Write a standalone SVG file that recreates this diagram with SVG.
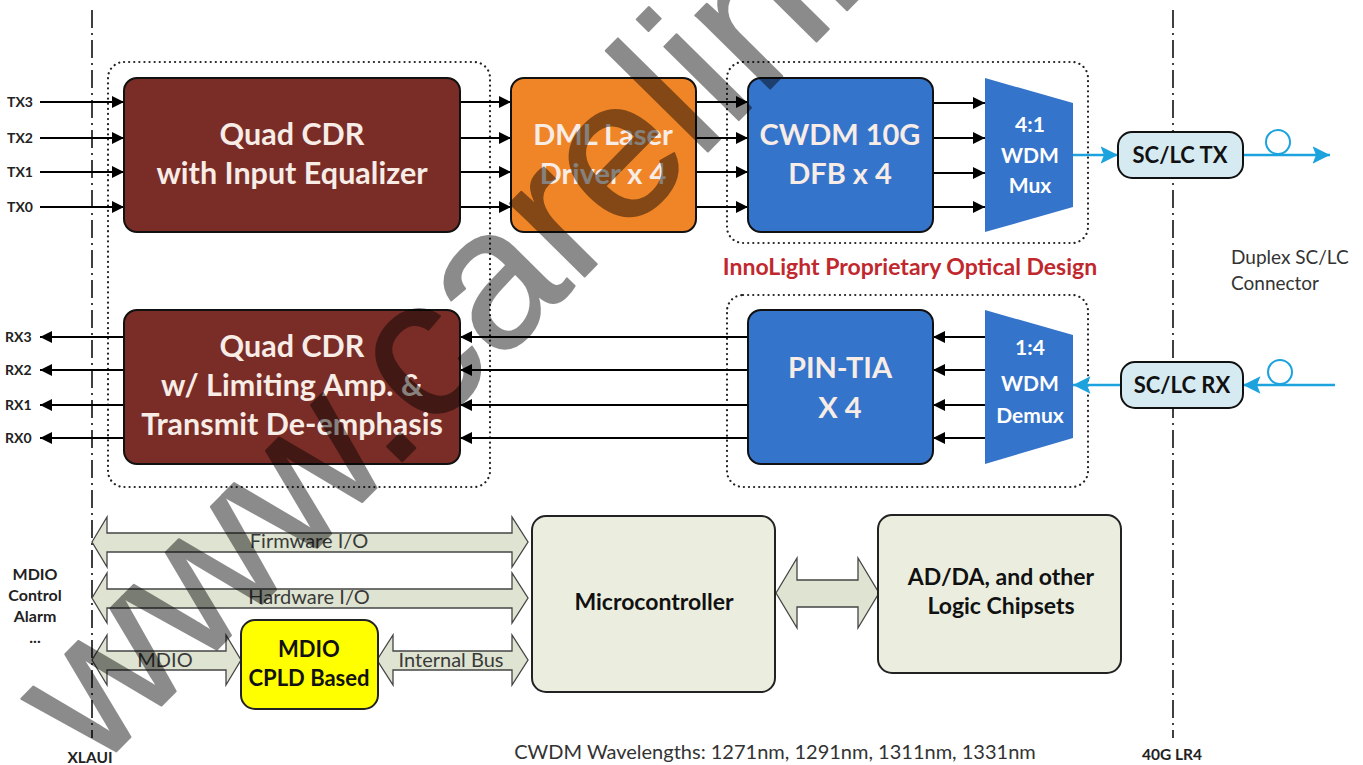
<svg xmlns="http://www.w3.org/2000/svg" width="1363" height="765" viewBox="0 0 1363 765">
<defs>
<style>
.t{font-family:Lato,"Liberation Sans",sans-serif;}
.big{font-size:29px;font-weight:bold;fill:#F7ECE6;text-anchor:middle;}
.cdr{font-size:30.5px;}
.wd{font-size:21px;font-weight:bold;fill:#FFFFFF;text-anchor:middle;}
.lbl{font-size:14px;font-weight:bold;fill:#222;}
.sc{font-size:22px;font-weight:bold;fill:#111;text-anchor:middle;}
.bus{font-size:20px;fill:#3a3a3a;text-anchor:middle;}
.gb{font-size:23px;font-weight:bold;fill:#111;text-anchor:middle;}
.blk{stroke:#111;stroke-width:2;}
.dash{stroke:#111;stroke-width:1.6;stroke-dasharray:18 5 2 5;fill:none;}
.dot{stroke:#222;stroke-width:2.2;stroke-dasharray:0.1 5;stroke-linecap:round;fill:none;}
.arr{stroke:#000;stroke-width:2;fill:none;}
.bl{stroke:#1CA3DE;stroke-width:2.5;fill:none;}
.busf{fill:#DEE4D1;stroke:#444;stroke-width:1.3;}
</style>
<marker id="ah" viewBox="0 0 10 10" refX="10" refY="5" markerWidth="6" markerHeight="6" markerUnits="strokeWidth" orient="auto">
<path d="M0,0 L10,5 L0,10 Z" fill="#000"/>
</marker>
<marker id="bh" viewBox="0 0 10 10" refX="10" refY="5" markerWidth="7" markerHeight="7" markerUnits="strokeWidth" orient="auto">
<path d="M0,0 L10,5 L0,10 L2,5 Z" fill="#1CA3DE"/>
</marker>
</defs>
<rect width="1363" height="765" fill="#FFFFFF"/>

<g id="boundaries">
<line class="dash" x1="92" y1="10" x2="92" y2="738"/>
<line class="dash" x1="1173" y1="10" x2="1173" y2="738"/>
<rect class="dot" x="108" y="62" width="382" height="425" rx="16"/>
<rect class="dot" x="727" y="62" width="361" height="181" rx="16"/>
<rect class="dot" x="727" y="295" width="361" height="192" rx="16"/>
</g>

<g id="connectors">
<line class="arr" x1="40" y1="102" x2="124" y2="102" marker-end="url(#ah)"/>
<line class="arr" x1="40" y1="138" x2="124" y2="138" marker-end="url(#ah)"/>
<line class="arr" x1="40" y1="172" x2="124" y2="172" marker-end="url(#ah)"/>
<line class="arr" x1="40" y1="207" x2="124" y2="207" marker-end="url(#ah)"/>
<line class="arr" x1="460" y1="102" x2="511" y2="102" marker-end="url(#ah)"/>
<line class="arr" x1="460" y1="138" x2="511" y2="138" marker-end="url(#ah)"/>
<line class="arr" x1="460" y1="172" x2="511" y2="172" marker-end="url(#ah)"/>
<line class="arr" x1="460" y1="207" x2="511" y2="207" marker-end="url(#ah)"/>
<line class="arr" x1="696" y1="102" x2="748" y2="102" marker-end="url(#ah)"/>
<line class="arr" x1="696" y1="138" x2="748" y2="138" marker-end="url(#ah)"/>
<line class="arr" x1="696" y1="172" x2="748" y2="172" marker-end="url(#ah)"/>
<line class="arr" x1="696" y1="207" x2="748" y2="207" marker-end="url(#ah)"/>
<line class="arr" x1="933" y1="103" x2="985" y2="103" marker-end="url(#ah)"/>
<line class="arr" x1="933" y1="138" x2="985" y2="138" marker-end="url(#ah)"/>
<line class="arr" x1="933" y1="173" x2="985" y2="173" marker-end="url(#ah)"/>
<line class="arr" x1="933" y1="207" x2="985" y2="207" marker-end="url(#ah)"/>
<line class="bl" x1="1073" y1="155" x2="1118" y2="155" marker-end="url(#bh)"/>
<line class="bl" x1="1243" y1="155" x2="1330" y2="155" marker-end="url(#bh)"/>
<circle cx="1278" cy="142" r="12" fill="none" stroke="#1CA3DE" stroke-width="2"/>

<line class="arr" x1="124" y1="337" x2="40" y2="337" marker-end="url(#ah)"/>
<line class="arr" x1="124" y1="370" x2="40" y2="370" marker-end="url(#ah)"/>
<line class="arr" x1="124" y1="405" x2="40" y2="405" marker-end="url(#ah)"/>
<line class="arr" x1="124" y1="438" x2="40" y2="438" marker-end="url(#ah)"/>
<line class="arr" x1="748" y1="337" x2="460" y2="337" marker-end="url(#ah)"/>
<line class="arr" x1="748" y1="370" x2="460" y2="370" marker-end="url(#ah)"/>
<line class="arr" x1="748" y1="405" x2="460" y2="405" marker-end="url(#ah)"/>
<line class="arr" x1="748" y1="438" x2="460" y2="438" marker-end="url(#ah)"/>
<line class="arr" x1="985" y1="337" x2="933" y2="337" marker-end="url(#ah)"/>
<line class="arr" x1="985" y1="370" x2="933" y2="370" marker-end="url(#ah)"/>
<line class="arr" x1="985" y1="405" x2="933" y2="405" marker-end="url(#ah)"/>
<line class="arr" x1="985" y1="438" x2="933" y2="438" marker-end="url(#ah)"/>
<line class="bl" x1="1121" y1="385" x2="1073" y2="385" marker-end="url(#bh)"/>
<line class="bl" x1="1335" y1="385" x2="1243" y2="385" marker-end="url(#bh)"/>
<circle cx="1280" cy="372" r="12" fill="none" stroke="#1CA3DE" stroke-width="2"/>

<polygon class="busf" points="92,542 107,517 107,533 512,533 512,517 528,542 512,567 512,552 107,552 107,567"/>
<polygon class="busf" points="92,598 107,573 107,589 512,589 512,573 528,598 512,623 512,608 107,608 107,623"/>
<polygon class="busf" points="92,660 107,635 107,651 226,651 226,635 241,660 226,685 226,670 107,670 107,685"/>
<polygon class="busf" points="377,660 393,635 393,651 512,651 512,635 528,660 512,685 512,670 393,670 393,685"/>
<polygon class="busf" points="776,593 797,558 797,580 858,580 858,558 879,593 858,628 858,607 797,607 797,628"/>
<text class="t bus" x="309" y="548">Firmware I/O</text>
<text class="t bus" x="309" y="604">Hardware I/O</text>
<text class="t bus" x="165" y="667">MDIO</text>
<text class="t bus" x="451" y="667">Internal Bus</text>
</g>

<g id="tx-labels" class="t lbl">
<text x="7" y="107">TX3</text>
<text x="7" y="143">TX2</text>
<text x="7" y="177">TX1</text>
<text x="7" y="212">TX0</text>
<text x="5" y="342">RX3</text>
<text x="5" y="375">RX2</text>
<text x="5" y="410">RX1</text>
<text x="5" y="443">RX0</text>
</g>

<g id="quad-cdr-tx">
<rect class="blk" x="124" y="78" width="336" height="154" rx="13" fill="#7A2D27"/>
<text class="t big cdr" x="292" y="145">Quad CDR</text>
<text class="t big cdr" x="292" y="184">with Input Equalizer</text>
</g>
<g id="dml-driver">
<rect class="blk" x="511" y="78" width="185" height="154" rx="13" fill="#F08527"/>
<text class="t big" x="603" y="145">DML Laser</text>
<text class="t big" x="603" y="184">Driver x 4</text>
</g>
<g id="cwdm-dfb">
<rect class="blk" x="748" y="78" width="185" height="154" rx="13" fill="#3574CB"/>
<text class="t big" x="840" y="145">CWDM 10G</text>
<text class="t big" x="840" y="184">DFB x 4</text>
</g>
<g id="wdm-mux">
<polygon points="985,78 1073,103 1073,207 985,232" fill="#3574CB"/>
<text class="t wd" x="1030" y="132">4:1</text>
<text class="t wd" x="1030" y="163">WDM</text>
<text class="t wd" x="1030" y="193">Mux</text>
</g>
<g id="sclc-tx">
<rect x="1118" y="132" width="125" height="46" rx="14" fill="#D5EAF1" stroke="#111" stroke-width="2"/>
<text class="t sc" x="1180" y="163">SC/LC TX</text>
</g>

<g id="quad-cdr-rx">
<rect class="blk" x="124" y="310" width="336" height="154" rx="13" fill="#7A2D27"/>
<text class="t big cdr" x="292" y="357">Quad CDR</text>
<text class="t big cdr" x="292" y="396">w/ Limiting Amp. &amp;</text>
<text class="t big cdr" x="292" y="435">Transmit De-emphasis</text>
</g>
<g id="pin-tia">
<rect class="blk" x="748" y="310" width="185" height="154" rx="13" fill="#3574CB"/>
<text class="t big" x="840" y="378">PIN-TIA</text>
<text class="t big" x="840" y="418">X 4</text>
</g>
<g id="wdm-demux">
<polygon points="985,310 1073,335 1073,438 985,464" fill="#3574CB"/>
<text class="t wd" x="1030" y="355">1:4</text>
<text class="t wd" x="1030" y="391">WDM</text>
<text class="t wd" x="1030" y="423">Demux</text>
</g>
<g id="sclc-rx">
<rect x="1121" y="362" width="122" height="46" rx="14" fill="#D5EAF1" stroke="#111" stroke-width="2"/>
<text class="t sc" x="1182" y="393">SC/LC RX</text>
</g>

<g id="microcontroller">
<rect x="532" y="516" width="243" height="176" rx="14" fill="#EBEEDF" stroke="#222" stroke-width="2"/>
<text class="t gb" x="654" y="610">Microcontroller</text>
</g>
<g id="adda">
<rect x="878" y="515" width="243" height="158" rx="14" fill="#EBEEDF" stroke="#222" stroke-width="2"/>
<text class="t gb" x="1001" y="585">AD/DA, and other</text>
<text class="t gb" x="1001" y="614">Logic Chipsets</text>
</g>
<g id="cpld">
<rect x="241" y="620" width="137" height="89" rx="14" fill="#FFFF00" stroke="#222" stroke-width="2"/>
<text class="t" x="309" y="657" font-size="22" font-weight="bold" fill="#111" text-anchor="middle">MDIO</text>
<text class="t" x="309" y="686" font-size="22" font-weight="bold" fill="#111" text-anchor="middle">CPLD Based</text>
</g>

<g id="annotations" class="t">
<text x="910" y="275" font-size="23" font-weight="bold" fill="#C0282E" text-anchor="middle">InnoLight Proprietary Optical Design</text>
<text x="1231" y="264" font-size="19" fill="#333">Duplex SC/LC</text>
<text x="1231" y="290" font-size="19" fill="#333">Connector</text>
<text x="35" y="580" font-size="16" font-weight="bold" fill="#222" text-anchor="middle">MDIO</text>
<text x="35" y="601" font-size="16" font-weight="bold" fill="#222" text-anchor="middle">Control</text>
<text x="35" y="622" font-size="16" font-weight="bold" fill="#222" text-anchor="middle">Alarm</text>
<text x="35" y="643" font-size="16" font-weight="bold" fill="#222" text-anchor="middle">...</text>
<text x="90" y="763" font-size="15.5" font-weight="bold" fill="#222" text-anchor="middle">XLAUI</text>
<text x="1172" y="760" font-size="15.5" font-weight="bold" fill="#222" text-anchor="middle">40G LR4</text>
<text x="775" y="759" font-size="20" fill="#333" text-anchor="middle">CWDM Wavelengths: 1271nm, 1291nm, 1311nm, 1331nm</text>
</g>

<g id="watermark" opacity="0.45">
<text x="0" y="0" transform="translate(96,772) rotate(-45.4)" font-family="'Liberation Sans',sans-serif" font-size="198" fill="#000" stroke="#000" stroke-width="2" stroke-linejoin="round">www.carelink</text>
</g>
</svg>
